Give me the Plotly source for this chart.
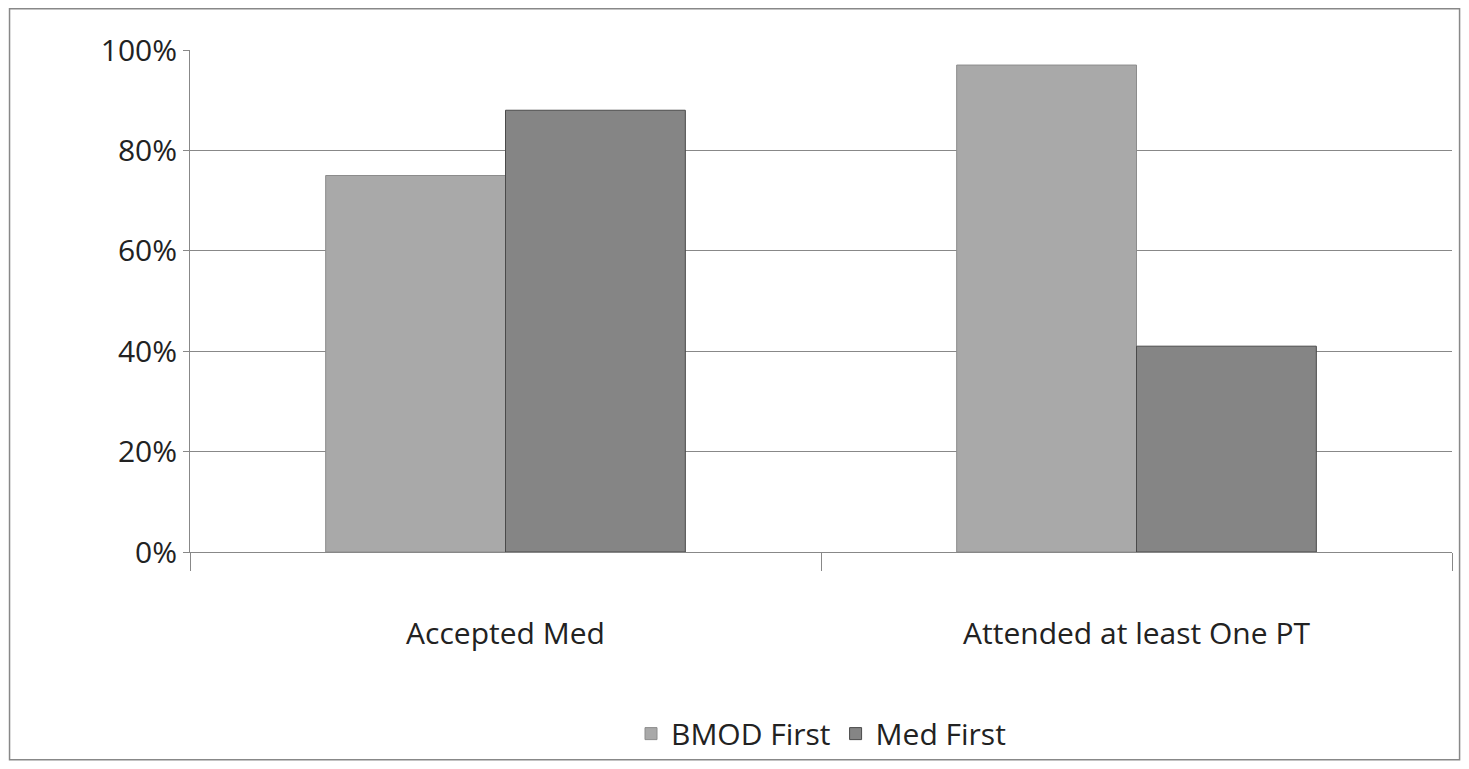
import plotly.graph_objects as go

categories = ["Accepted Med", "Attended at least One PT"]
bmod_first = [75, 97]
med_first = [88, 41]
y_ticks = [0, 20, 40, 60, 80, 100]
y_tick_labels = ["0%", "20%", "40%", "60%", "80%", "100%"]

fig = go.Figure()
fig.add_bar(name="BMOD First", x=categories, y=bmod_first,
            marker=dict(color="#a9a9a9", line=dict(color="#8c8c8c", width=1)))
fig.add_bar(name="Med First", x=categories, y=med_first,
            marker=dict(color="#858585", line=dict(color="#4a4a4a", width=1)))

fig.update_layout(
    width=1453, height=753,
    margin=dict(l=182, r=9, t=42, b=209, autoexpand=False),
    paper_bgcolor="white", plot_bgcolor="white",
    barmode="group", bargap=0.43, bargroupgap=0,
    font=dict(family="Open Sans", color="#222", size=30),
    legend=dict(orientation="h", x=0.5, xanchor="center", y=-0.31, yanchor="top",
                font=dict(size=30), bgcolor="rgba(0,0,0,0)"),
    showlegend=True,
    shapes=[dict(type="rect", xref="paper", yref="paper", x0=-0.143, x1=1.006,
                 y0=-0.414, y1=1.082, line=dict(color="#888", width=1.5))],
)
fig.update_yaxes(range=[0, 100], tickvals=y_ticks, ticktext=y_tick_labels,
                 gridcolor="#888", gridwidth=1.2, showline=True, linecolor="#888",
                 zeroline=False, tickfont=dict(size=30), ticks="outside", ticklen=6,
                 tickcolor="#888", automargin=False)
fig.update_xaxes(showline=True, linecolor="#888", ticks="outside", tickson="boundaries",
                 ticklen=18, tickcolor="#888", ticklabelstandoff=55, tickfont=dict(size=30),
                 automargin=False)
fig.write_html("out.html")
